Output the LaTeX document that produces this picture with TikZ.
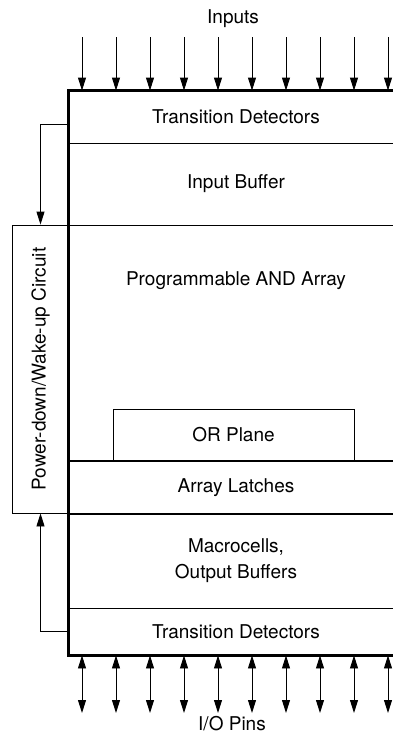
\documentclass[tikz,border=0pt]{standalone}
\usepackage{fontspec}
\setmainfont{TeX Gyre Heros}
\usetikzlibrary{arrows.meta}

\tikzset{
  band/.style={draw, line width=0.9pt, minimum width=334pt, inner sep=0pt},
  wire/.style={line width=0.9pt},
}

\begin{document}
\begin{tikzpicture}[x=1pt, y=-1pt, >={Triangle[length=13pt,width=8pt]},
  font=\fontsize{19}{26}\selectfont]

  \clip (0,0) rectangle (393,736);

  % stacked blocks
  \node[band, minimum height=52pt] (td1) at (236,117) {Transition Detectors};
  \node[band, minimum height=82pt] (buf) at (236,184) {Input Buffer};
  \node[band, minimum height=235pt] (andarr) at (236,342.5) {};
  \node (andlbl) at (236,281) {Programmable AND Array};
  \node[band, minimum width=241pt, minimum height=51pt] (orpl) at (233.5,434.5) {OR Plane};
  \node[band, minimum height=53pt] (latch) at (236,487.5) {Array Latches};
  \node[band, minimum height=95pt, align=center] (macro) at (236,560.5) {Macrocells,\\Output Buffers};
  \node[band, minimum height=47pt] (td2) at (236,631.5) {Transition Detectors};

  \draw[line width=2.2pt] (td1.north east) -| (td2.south west) -- (td2.south east);

  % power-down block
  \node[draw, line width=0.9pt, minimum width=57pt, minimum height=288pt, inner sep=0pt]
    (pwr) at (40.5,369) {\rotatebox{90}{Power-down/Wake-up Circuit}};
  \draw[wire, ->] ([yshift=-7pt]td1.west) -| (pwr.north);
  \draw[wire, ->] (td2.west) -| (pwr.south);

  % inputs and pins
  \node (inputs) at (233,19) {Inputs};
  \node[inner sep=0pt] (pins) at (232,724) {I/O Pins};
  \foreach \i in {0,...,9} {
    \coordinate (in\i) at (82+34*\i,37);
    \coordinate (pin\i) at (82+34*\i,713);
    \draw[wire, ->] (in\i) -- (in\i |- td1.north);
    \draw[wire, <->] (td2.south -| pin\i) -- (pin\i);
  }
\end{tikzpicture}
\end{document}
